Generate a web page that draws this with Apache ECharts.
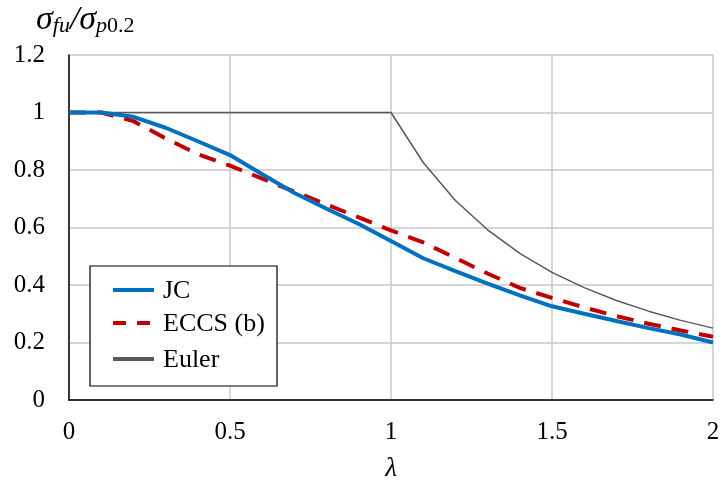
<!DOCTYPE html>
<html><head><meta charset="utf-8">
<script src="https://cdn.jsdelivr.net/npm/echarts@6/dist/echarts.min.js"></script>
<style>html,body{margin:0;padding:0;background:#fff}#c{width:724px;height:487px}</style>
</head><body><div id="c"></div>
<script>
const lambda = [0,0.1,0.2,0.3,0.4,0.5,0.6,0.7,0.8,0.9,1.0,1.1,1.2,1.3,1.4,1.5,1.6,1.7,1.8,1.9,2.0];
const jc    = [1,1,0.985,0.947,0.90,0.852,0.785,0.72,0.665,0.612,0.553,0.493,0.448,0.405,0.364,0.326,0.30,0.275,0.25,0.228,0.20];
const eccs  = [1,1,0.97,0.91,0.855,0.815,0.77,0.725,0.68,0.635,0.59,0.548,0.494,0.44,0.39,0.355,0.322,0.292,0.265,0.242,0.22];
const euler = [1,1,1,1,1,1,1,1,1,1,1,0.826,0.694,0.592,0.510,0.444,0.391,0.346,0.309,0.277,0.25];
const xTicks = [0,0.5,1,1.5,2];
const yTicks = [0,0.2,0.4,0.6,0.8,1,1.2];
const names = ['JC','ECCS (b)','Euler'];

const font = 'Liberation Serif';
const pair = (ys) => lambda.map((x,i)=>[x,ys[i]]);
const chart = echarts.init(document.getElementById('c'));
chart.setOption({
  animation:false,
  grid:{left:69,right:11,top:55,bottom:85,containLabel:false},
  xAxis:{type:'value',min:0,max:2,interval:0.5,
    axisLine:{lineStyle:{color:'#000',width:1.5}},
    axisTick:{show:false},
    axisLabel:{color:'#000',fontFamily:font,fontSize:25,margin:20,formatter:v=>String(v)},
    splitLine:{show:true,lineStyle:{color:'#c8c8c8',width:1.5}},
    name:'λ',nameLocation:'middle',nameGap:55,
    nameTextStyle:{color:'#000',fontFamily:font,fontSize:27,fontStyle:'italic'}},
  yAxis:{type:'value',min:0,max:1.2,interval:0.2,
    axisLine:{show:true,lineStyle:{color:'#000',width:1.5}},
    axisTick:{show:false},
    axisLabel:{color:'#000',fontFamily:font,fontSize:25,margin:24,formatter:v=>String(Math.round(v*10)/10)},
    splitLine:{show:true,lineStyle:{color:'#c8c8c8',width:1.5}}},
  series:[
    {name:names[2],type:'line',data:pair(euler),symbol:'none',z:2,lineStyle:{color:'#595959',width:1.5}},
    {name:names[1],type:'line',data:pair(eccs),symbol:'none',z:3,lineStyle:{color:'#c00000',width:4,type:[17,11]}},
    {name:names[0],type:'line',data:pair(jc),symbol:'none',z:4,lineStyle:{color:'#0070c0',width:4}}
  ],
  graphic:[
    {type:'text',left:36,top:3,style:{rich:{
       s:{fontFamily:font,fontSize:34,fontStyle:'italic',fill:'#000'},
       sub:{fontFamily:font,fontSize:22,fontStyle:'italic',fill:'#000',padding:[13,0,0,0]},
       sub2:{fontFamily:font,fontSize:22,fill:'#000',padding:[13,0,0,0]}},
       text:'{s|σ}{sub|fu}{s|/σ}{sub|p}{sub2|0.2}'}},
    {type:'rect',shape:{x:90,y:266,width:187,height:120},style:{fill:'#fff',stroke:'#000',lineWidth:1.2},z:10},
    {type:'line',shape:{x1:113,y1:290,x2:154,y2:290},style:{stroke:'#0070c0',lineWidth:4},z:11},
    {type:'line',shape:{x1:113,y1:323,x2:154,y2:323},style:{stroke:'#c00000',lineWidth:4,lineDash:[13,11]},z:11},
    {type:'line',shape:{x1:113,y1:359,x2:154,y2:359},style:{stroke:'#595959',lineWidth:4},z:11},
    {type:'text',x:163,y:291,style:{text:names[0],fontFamily:font,fontSize:26,fill:'#000',verticalAlign:'middle'},z:11},
    {type:'text',x:163,y:324,style:{text:names[1],fontFamily:font,fontSize:26,fill:'#000',verticalAlign:'middle'},z:11},
    {type:'text',x:163,y:360,style:{text:names[2],fontFamily:font,fontSize:26,fill:'#000',verticalAlign:'middle'},z:11}
  ]
});
</script></body></html>
